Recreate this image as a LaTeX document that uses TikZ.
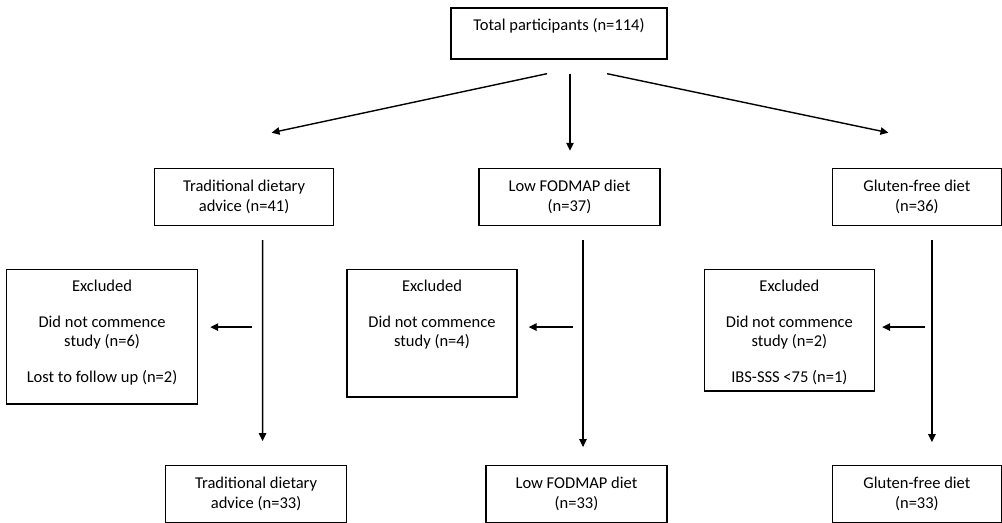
\documentclass[tikz,border=0pt]{standalone}
\usepackage{fontspec}
\setmainfont{Carlito}
\usepackage{tikz}
\usetikzlibrary{arrows.meta, positioning}

\begin{document}
\begin{tikzpicture}[
  grp/.style={rectangle, draw=black, line width=0.8pt, minimum height=1.14cm, align=center, inner sep=0pt, font=\fontsize{9.4}{11.4}\selectfont},
  excl/.style={rectangle, draw=black, line width=0.8pt, align=center, inner sep=0pt, font=\fontsize{9.4}{10.4}\selectfont},
  arr/.style={-{Triangle[length=4.5pt,width=4.2pt]}, line width=0.8pt}
]
  \useasboundingbox (-11.18,0.67) rectangle (8.86,-9.79);

  \node[grp, minimum width=4.32cm, minimum height=0pt, text height=12.8pt, text depth=16.2pt] (total) {Total participants (n=114)};

  \node[grp, minimum width=3.62cm, below=2.16cm of total, xshift=0.21cm] (fodmap) {Low FODMAP diet\\(n=37)};
  \node[grp, minimum width=3.58cm, left=2.88cm of fodmap] (trad) {Traditional dietary\\advice (n=41)};
  \node[grp, minimum width=3.38cm, right=3.42cm of fodmap] (gluten) {Gluten-free diet\\(n=36)};

  \node[excl, minimum width=3.82cm, text height=64.4pt, text depth=11.9pt, below=0.86cm of trad, xshift=-2.84cm] (exctrad) {Excluded\\[10.5pt]Did not commence\\study (n=6)\\[10.5pt]Lost to follow up (n=2)};
  \node[excl, minimum width=3.40cm, text height=43.5pt, text depth=28.8pt, below=0.86cm of fodmap, xshift=-2.75cm] (excfodmap) {Excluded\\[10.5pt]Did not commence\\study (n=4)};
  \node[excl, minimum width=3.40cm, text height=64.4pt, text depth=4.5pt, below=0.86cm of gluten, xshift=-2.55cm] (excgluten) {Excluded\\[10.5pt]Did not commence\\study (n=2)\\[10.5pt]IBS-SSS <75 (n=1)};

  \node[grp, minimum width=3.62cm, below=4.78cm of trad, xshift=0.24cm] (trad2) {Traditional dietary\\advice (n=33)};
  \node[grp, minimum width=3.62cm, below=4.78cm of fodmap, xshift=0.14cm] (fodmap2) {Low FODMAP diet\\(n=33)};
  \node[grp, minimum width=3.38cm, below=4.78cm of gluten] (gluten2) {Gluten-free diet\\(n=33)};

  % allocation
  \draw[arr] ([xshift=-0.24cm,yshift=-0.28cm]total.south) -- ([xshift=0.55cm,yshift=0.70cm]trad.north);
  \draw[arr] ([xshift=0.22cm,yshift=-0.28cm]total.south) -- ([xshift=0.01cm,yshift=0.34cm]fodmap.north);
  \draw[arr] ([xshift=0.96cm,yshift=-0.28cm]total.south) -- ([xshift=-0.57cm,yshift=0.70cm]gluten.north);

  % follow up
  \draw[arr] ([xshift=0.37cm,yshift=-0.28cm]trad.south) -- ([xshift=0.13cm,yshift=0.48cm]trad2.north);
  \draw[arr] ([xshift=0.27cm,yshift=-0.28cm]fodmap.south) -- ([xshift=0.13cm,yshift=0.36cm]fodmap2.north);
  \draw[arr] ([xshift=0.30cm,yshift=-0.28cm]gluten.south) -- ([xshift=0.30cm,yshift=0.46cm]gluten2.north);

  % exclusions
  \draw[arr] ([xshift=1.08cm,yshift=-1.16cm]exctrad.north east) -- ([xshift=0.24cm,yshift=-1.16cm]exctrad.north east);
  \draw[arr] ([xshift=1.10cm,yshift=-1.16cm]excfodmap.north east) -- ([xshift=0.22cm,yshift=-1.16cm]excfodmap.north east);
  \draw[arr] ([xshift=1.00cm,yshift=-1.16cm]excgluten.north east) -- ([xshift=0.14cm,yshift=-1.16cm]excgluten.north east);
\end{tikzpicture}
\end{document}
